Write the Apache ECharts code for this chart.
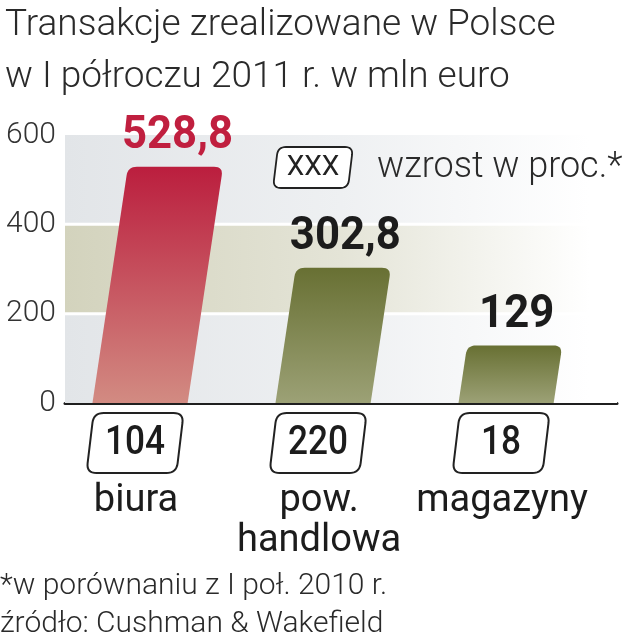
<!DOCTYPE html>
<html>
<head>
<meta charset="utf-8">
<script src="https://cdn.jsdelivr.net/npm/echarts@6/dist/echarts.min.js"></script>
<style>html,body{margin:0;padding:0;background:#fff}#c{width:626px;height:640px}</style>
</head>
<body>
<div id="c"></div>
<script>
const categories = ['biura', 'pow.\nhandlowa', 'magazyny'];
const values = [528.8, 302.8, 129];
const growth = [104, 220, 18];
const yTicks = [0, 200, 400, 600];
const titleLines = ['Transakcje zrealizowane w Polsce', 'w I półroczu 2011 r. w mln euro'];
const legendText = 'wzrost w proc.*';
const notes = ['*w porównaniu z I poł. 2010 r.', 'źródło: Cushman & Wakefield'];

const XMIN = -0.41, XMAX = 2.606;
const BAR_W = 0.52, SKEW = 0.15, BOX_SKEW = 0.12;
const LINE_GAP = 3.4; // half of the white grid line width, in axis units

function roundPoly(pts, radii) {
  const out = [], n = pts.length;
  for (let i = 0; i < n; i++) {
    const p = pts[i], r = radii[i];
    if (!r) { out.push(p); continue; }
    const a = pts[(i - 1 + n) % n], b = pts[(i + 1) % n];
    const da = Math.hypot(a[0] - p[0], a[1] - p[1]), db = Math.hypot(b[0] - p[0], b[1] - p[1]);
    const s = [p[0] + (a[0] - p[0]) * r / da, p[1] + (a[1] - p[1]) * r / da];
    const e = [p[0] + (b[0] - p[0]) * r / db, p[1] + (b[1] - p[1]) * r / db];
    for (let k = 0; k <= 8; k++) {
      const t = k / 8, u = 1 - t;
      out.push([u * u * s[0] + 2 * u * t * p[0] + t * t * e[0], u * u * s[1] + 2 * u * t * p[1] + t * t * e[1]]);
    }
  }
  return out;
}

const barColors = [
  ['#bb1e3e', '#d28b82'],
  ['#687033', '#9ca176'],
  ['#687033', '#9ca176']
];

const grayGrad = {type: 'linear', x: 0, y: 0, x2: 1, y2: 0,
  colorStops: [{offset: 0, color: '#e2e5e8'}, {offset: 0.5, color: '#eef0f2'}, {offset: 0.95, color: '#ffffff'}]};
const oliveGrad = {type: 'linear', x: 0, y: 0, x2: 1, y2: 0,
  colorStops: [{offset: 0, color: '#d3d3bd'}, {offset: 0.5, color: '#e4e4d7'}, {offset: 0.95, color: '#ffffff'}]};

const chart = echarts.init(document.getElementById('c'), null, {renderer: 'canvas'});
chart.setOption({
  animation: false,
  grid: {left: 65, right: 9, top: 135, bottom: 237, containLabel: false},
  xAxis: {
    type: 'value', min: XMIN, max: XMAX,
    axisLine: {show: true, lineStyle: {color: '#1f1f1f', width: 3}},
    axisTick: {show: false}, axisLabel: {show: false}, splitLine: {show: false}
  },
  yAxis: {
    type: 'value', min: 0, max: 600, interval: 200,
    axisLine: {show: false}, axisTick: {show: false},
    axisLabel: {
      margin: 9, color: '#333', fontFamily: 'Roboto', fontWeight: 300, fontSize: 30,
      formatter: v => yTicks.indexOf(v) >= 0 ? String(v) : ''
    },
    splitLine: {show: false}
  },
  series: [
    {
      type: 'line', z: 1, data: [], silent: true,
      markArea: {
        silent: true,
        data: [
          [{yAxis: yTicks[0], itemStyle: {color: grayGrad}}, {yAxis: yTicks[1] - LINE_GAP}],
          [{yAxis: yTicks[1] + LINE_GAP, itemStyle: {color: oliveGrad}}, {yAxis: yTicks[2] - LINE_GAP}],
          [{yAxis: yTicks[2] + LINE_GAP, itemStyle: {color: grayGrad}}, {yAxis: yTicks[3]}]
        ]
      }
    },
    {
      type: 'custom', clip: false, z: 3,
      data: values.map((v, i) => [i, v]),
      renderItem: function (params, api) {
        const i = api.value(0), v = api.value(1);
        const p0 = api.coord([i, 0]), p1 = api.coord([i, v]);
        const hw = api.size([BAR_W, 0])[0] / 2;
        const h = p0[1] - p1[1];
        const s = h * SKEW;
        const cx = p0[0];
        const pts = roundPoly([
          [cx - hw, p0[1]], [cx + hw, p0[1]], [cx + hw + s, p1[1]], [cx - hw + s, p1[1]]
        ], [0, 0, 9, 9]);
        const c = barColors[i];
        const bw = 90, bh = 60, bcx = cx - 5, btop = p0[1] + 10;
        const bs = bh * BOX_SKEW;
        const box = roundPoly([
          [bcx - bw / 2 - bs / 2, btop + bh], [bcx + bw / 2 - bs / 2, btop + bh],
          [bcx + bw / 2 + bs / 2, btop], [bcx - bw / 2 + bs / 2, btop]
        ], [10, 10, 10, 10]);
        return {
          type: 'group',
          children: [
            {type: 'polygon', shape: {points: pts}, style: {fill: {type: 'linear', x: 0, y: 0, x2: 0, y2: 1,
              colorStops: [{offset: 0, color: c[0]}, {offset: 1, color: c[1]}]}}},
            {type: 'text', x: cx + s + 2, y: p1[1] - 30, scaleX: 0.95, style: {
              text: String(v).replace('.', ','), fill: i === 0 ? '#c01f3f' : '#1c1c1c',
              fontFamily: 'Roboto', fontWeight: 'bold', fontSize: 46, align: 'center', verticalAlign: 'middle'}},
            {type: 'polygon', shape: {points: box}, style: {fill: '#fff', stroke: '#222', lineWidth: 2}},
            {type: 'text', x: bcx, y: btop + bh / 2 + 1, scaleX: 0.88, style: {
              text: String(growth[i]), fill: '#1c1c1c', fontFamily: 'Roboto', fontWeight: 500, fontSize: 40,
              align: 'center', verticalAlign: 'middle'}},
            {type: 'text', x: cx - 4, y: p0[1] + 78, style: {
              text: categories[i], fill: '#1c1c1c', fontFamily: 'Roboto', fontSize: 38, lineHeight: 40,
              align: 'center', verticalAlign: 'top'}}
          ]
        };
      }
    }
  ],
  graphic: [
    {type: 'text', left: 5, top: 7, z: 100, style: {text: titleLines[0], fill: '#2a2a2a', fontFamily: 'Roboto', fontWeight: 300, fontSize: 37}},
    {type: 'text', left: 5, top: 59, z: 100, style: {text: titleLines[1], fill: '#2a2a2a', fontFamily: 'Roboto', fontWeight: 300, fontSize: 37}},
    {type: 'polygon', z: 100, shape: {points: roundPoly([[273, 188], [348, 188], [353, 147], [278, 147]], [8, 8, 8, 8])},
      style: {fill: '#fff', stroke: '#222', lineWidth: 1.8}},
    {type: 'text', x: 313, y: 168, z: 101, style: {text: 'XXX', fill: '#222', fontFamily: 'Roboto', fontSize: 28, align: 'center', verticalAlign: 'middle'}},
    {type: 'text', x: 377, y: 168, z: 100, style: {text: legendText, fill: '#2a2a2a', fontFamily: 'Roboto', fontWeight: 300, fontSize: 36, verticalAlign: 'middle'}},
    {type: 'text', left: 0, top: 571, z: 100, style: {text: notes[0], fill: '#2a2a2a', fontFamily: 'Roboto', fontWeight: 300, fontSize: 30}},
    {type: 'text', left: 0, top: 609, z: 100, style: {text: notes[1], fill: '#2a2a2a', fontFamily: 'Roboto', fontWeight: 300, fontSize: 30}}
  ]
});
</script>
</body>
</html>
